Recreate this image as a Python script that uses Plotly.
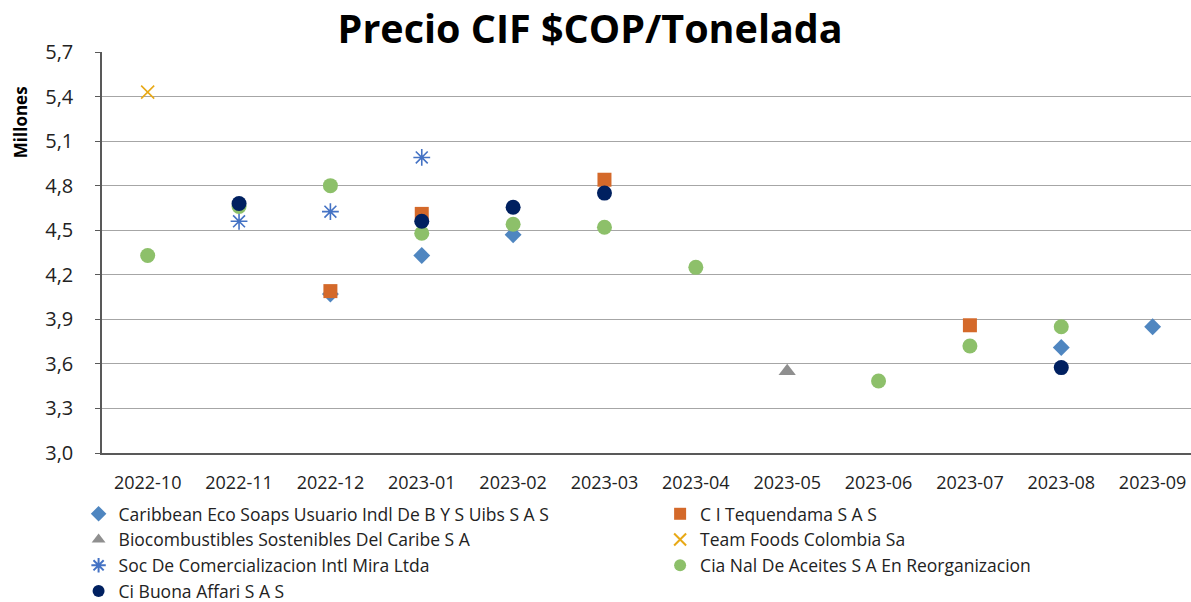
import plotly.graph_objects as go

months = ["2022-10", "2022-11", "2022-12", "2023-01", "2023-02", "2023-03",
          "2023-04", "2023-05", "2023-06", "2023-07", "2023-08", "2023-09"]

caribbean_x = ["2022-12", "2023-01", "2023-02", "2023-08", "2023-09"]
caribbean_y = [4.07, 4.33, 4.47, 3.71, 3.85]

tequendama_x = ["2022-12", "2023-01", "2023-03", "2023-07"]
tequendama_y = [4.09, 4.61, 4.84, 3.86]

biocomb_x = ["2023-05"]
biocomb_y = [3.55]

teamfoods_x = ["2022-10"]
teamfoods_y = [5.43]

soc_x = ["2022-11", "2022-12", "2023-01"]
soc_y = [4.56, 4.625, 4.99]

cianal_x = ["2022-10", "2022-11", "2022-12", "2023-01", "2023-02", "2023-03",
            "2023-04", "2023-06", "2023-07", "2023-08"]
cianal_y = [4.33, 4.66, 4.80, 4.48, 4.54, 4.52, 4.25, 3.485, 3.72, 3.85]

buona_x = ["2022-11", "2023-01", "2023-02", "2023-03", "2023-08"]
buona_y = [4.68, 4.56, 4.655, 4.75, 3.575]

y_ticks = [3.0, 3.3, 3.6, 3.9, 4.2, 4.5, 4.8, 5.1, 5.4, 5.7]

# (name, x, y, marker, legend)
series = [
    ("Caribbean Eco Soaps Usuario Indl De B Y S Uibs S A S", caribbean_x, caribbean_y,
     dict(symbol="diamond", size=13, color="#4F86C0"), "legend"),
    ("C I Tequendama S A S", tequendama_x, tequendama_y,
     dict(symbol="square", size=14, color="#D4692A"), "legend2"),
    ("Biocombustibles Sostenibles Del Caribe S A", biocomb_x, biocomb_y,
     dict(symbol="triangle-up", size=15, color="#8F8F8F"), "legend"),
    ("Team Foods Colombia Sa", teamfoods_x, teamfoods_y,
     dict(symbol="x-thin-open", size=13, color="#E8A917", line=dict(width=1.6, color="#E8A917")), "legend2"),
    ("Soc De Comercializacion Intl Mira Ltda", soc_x, soc_y,
     dict(symbol="asterisk-open", size=14, color="#4472C4", line=dict(width=1.6, color="#4472C4")), "legend"),
    ("Cia Nal De Aceites S A En Reorganizacion", cianal_x, cianal_y,
     dict(symbol="circle", size=15, color="#8DC06A"), "legend2"),
    ("Ci Buona Affari S A S", buona_x, buona_y,
     dict(symbol="circle", size=15, color="#002060"), "legend"),
]

fig = go.Figure()
for name, xs, ys, mk, lg in series:
    fig.add_trace(go.Scatter(x=xs, y=ys, mode="markers", name=name, marker=mk, legend=lg))

font_family = "Open Sans, Lato, sans-serif"
legend_font = dict(family=font_family, size=17.5, color="#222222")

fig.update_layout(
    width=1191, height=602,
    margin=dict(l=102, r=0, t=52, b=149, autoexpand=False),
    paper_bgcolor="white", plot_bgcolor="white",
    separators=",.",
    font=dict(family=font_family, size=17, color="#222222"),
    title=dict(text="<b>Precio CIF $COP/Tonelada</b>", x=0.4955, xanchor="center",
               y=0.951, yanchor="middle",
               font=dict(family=font_family, size=39.5, color="black")),
    xaxis=dict(type="category", categoryorder="array", categoryarray=months,
               range=[-0.5, 11.42], showgrid=False, showline=True,
               linecolor="#595959", linewidth=1.5, ticks="",
               ticklabelstandoff=13,
               tickfont=dict(size=18, color="#222222")),
    yaxis=dict(range=[3.0, 5.7], tickvals=y_ticks, tickformat=".1f",
               showgrid=True, gridcolor="#A6A6A6", gridwidth=1.2,
               showline=True, linecolor="#595959", linewidth=1.5,
               ticks="outside", ticklen=5, tickcolor="#595959",
               ticklabelstandoff=18,
               zeroline=False, tickfont=dict(size=20, color="#222222")),
    legend=dict(orientation="v", x=-0.0215, xanchor="left", y=-0.107, yanchor="top",
                tracegroupgap=0, font=legend_font, itemwidth=30, itemsizing="constant",
                bgcolor="rgba(0,0,0,0)"),
    legend2=dict(orientation="v", x=0.5125, xanchor="left", y=-0.107, yanchor="top",
                 tracegroupgap=0, font=legend_font, itemwidth=30, itemsizing="constant",
                 bgcolor="rgba(0,0,0,0)"),
    annotations=[dict(text="<b>Millones</b>", textangle=-90, xref="paper", yref="paper",
                      x=-0.0753, y=0.825, xanchor="center", yanchor="middle",
                      showarrow=False, font=dict(family=font_family, size=17, color="black"))],
)

fig.write_html("out.html", config={"displayModeBar": False},
               post_script="document.body.style.margin='0';document.body.style.overflow='hidden';")
